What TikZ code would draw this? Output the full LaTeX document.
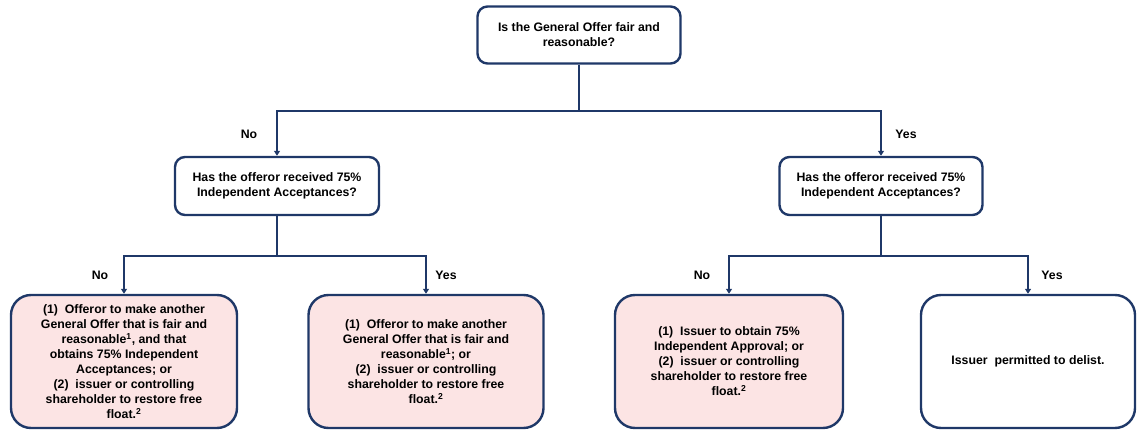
\documentclass[tikz,border=0pt]{standalone}
\usepackage{fontspec}
\setmainfont{Liberation Sans}
\usetikzlibrary{arrows.meta}
\definecolor{navy}{HTML}{1F3868}
\definecolor{pinkfill}{HTML}{FCE4E4}
\tikzset{
  qbox/.style={draw=navy, line width=2.4pt, rounded corners=10pt, fill=white, align=center,
    font=\fontsize{12.3}{15}\selectfont\bfseries, inner sep=0pt},
  abox/.style={draw=navy, line width=2.4pt, rounded corners=20pt, align=center,
    font=\fontsize{12.3}{15}\selectfont\bfseries, inner sep=0pt, minimum height=133pt},
  conn/.style={draw=navy, line width=1.8pt, -{Triangle[width=6pt,length=5pt]}},
  lbl/.style={font=\fontsize{12.3}{14}\selectfont\bfseries, inner sep=0pt}
}
\begin{document}
\begin{tikzpicture}[x=1pt,y=-1pt]
\useasboundingbox (0,0) rectangle (1137,430);
\node[qbox, minimum width=203pt, minimum height=57pt] (top) at (579,35) {Is the General Offer fair and\\reasonable?};
\node[qbox, minimum width=204pt, minimum height=58pt] (midL) at (277,186) {Has the offeror received 75\%\\Independent Acceptances?};
\node[qbox, minimum width=203pt, minimum height=58pt] (midR) at (881,186) {Has the offeror received 75\%\\Independent Acceptances?};
\node[abox, fill=pinkfill, minimum width=226pt] (b1) at (124,361.5) {(1)\ \ Offeror to make another\\General Offer that is fair and\\reasonable\textsuperscript{1}, and that\\obtains 75\% Independent\\Acceptances; or\\(2)\ \ issuer or controlling\\shareholder to restore free\\float.\textsuperscript{2}};
\node[abox, fill=pinkfill, minimum width=235pt] (b2) at (426,361.5) {(1)\ \ Offeror to make another\\General Offer that is fair and\\reasonable\textsuperscript{1}; or\\(2)\ \ issuer or controlling\\shareholder to restore free\\float.\textsuperscript{2}};
\node[abox, fill=pinkfill, minimum width=228pt] (b3) at (729,361.5) {(1)\ \ Issuer to obtain 75\%\\Independent Approval; or\\(2)\ \ issuer or controlling\\shareholder to restore free\\float.\textsuperscript{2}};
\node[abox, fill=white, minimum width=214pt] (b4) at (1028,361.5) {Issuer\ \ permitted to delist.};
\coordinate (j0) at (579,111);
\coordinate (jL) at (277,256);
\coordinate (jR) at (881,256);
\draw[conn] (top.south) -- (j0) -| (midL.north);
\draw[conn] (j0) -| (midR.north);
\draw[conn] (midL.south) -- (jL) -| (b1.north);
\draw[conn] (jL) -| (b2.north);
\draw[conn] (midR.south) -- (jR) -| (b3.north);
\draw[conn] (jR) -| (b4.north);
\node[lbl] (n1) at (249,134) {No};
\node[lbl] (y1) at (906,134) {Yes};
\node[lbl] (n2) at (100,275) {No};
\node[lbl] (y2) at (446,275) {Yes};
\node[lbl] (n3) at (702,275) {No};
\node[lbl] (y3) at (1052,275) {Yes};
\end{tikzpicture}
\end{document}
